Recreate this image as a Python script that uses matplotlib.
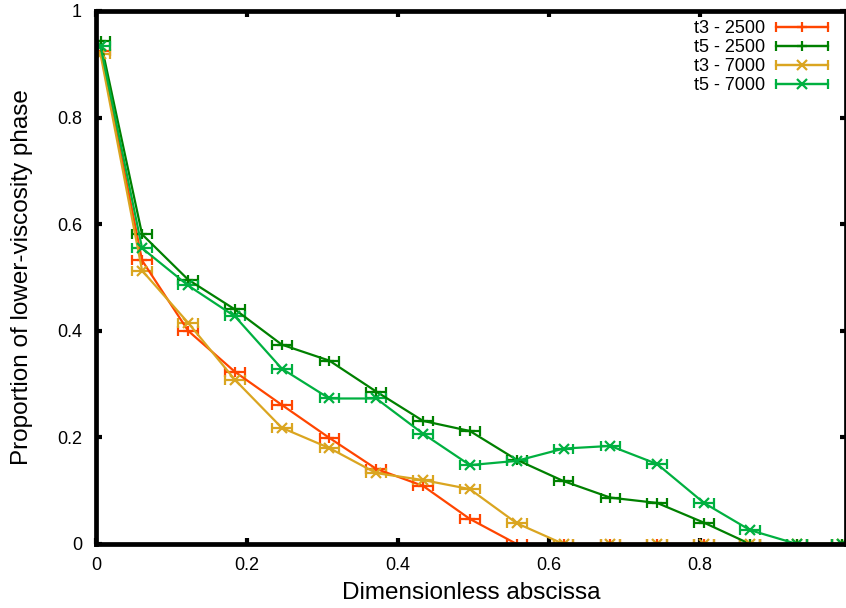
import matplotlib
matplotlib.use("Agg")
import matplotlib.pyplot as plt
import matplotlib.ticker as mticker
from matplotlib.container import ErrorbarContainer
from matplotlib.legend_handler import HandlerErrorbar

plt.rcParams["font.family"] = ["Liberation Sans", "DejaVu Sans"]

# ── data ────────────────────────────────────────────────────────────────────
x = [0.006, 0.061, 0.122, 0.184, 0.246, 0.309, 0.371, 0.433, 0.495,
     0.557, 0.619, 0.681, 0.743, 0.805, 0.866, 0.928, 0.988]
x_err = 0.013

t3_2500 = [0.925, 0.532, 0.400, 0.323, 0.261, 0.199, 0.141, 0.109, 0.047,
           0.0, 0.0, 0.0, 0.0, 0.0, 0.0, 0.0, 0.0]
t5_2500 = [0.944, 0.581, 0.496, 0.440, 0.374, 0.344, 0.286, 0.231, 0.212,
           0.158, 0.118, 0.087, 0.077, 0.040, 0.0, 0.0, 0.0]
t3_7000 = [0.919, 0.513, 0.415, 0.308, 0.218, 0.180, 0.133, 0.120, 0.103,
           0.039, 0.0, 0.0, 0.0, 0.0, 0.0, 0.0, 0.0]
t5_7000 = [0.934, 0.555, 0.485, 0.427, 0.329, 0.273, 0.273, 0.207, 0.148,
           0.156, 0.179, 0.184, 0.150, 0.077, 0.026, 0.0, 0.0]

series = [
    ("t3 - 2500", t3_2500, "#ff4500", "+"),
    ("t5 - 2500", t5_2500, "#008000", "+"),
    ("t3 - 7000", t3_7000, "#daa520", "x"),
    ("t5 - 7000", t5_7000, "#00b040", "x"),
]

fig = plt.figure(figsize=(8.46, 6.08), dpi=100)
ax = fig.add_axes([96 / 846, 64 / 608, 750 / 846, 533 / 608])

for label, y, color, marker in series:
    ax.errorbar(x, y, xerr=x_err, fmt="-", marker=marker, color=color,
                lw=1.6, elinewidth=1.6, capsize=3.5, capthick=1.6,
                markersize=7, markeredgewidth=1.6, label=label)

ax.set_xlim(0, 0.993)
ax.set_ylim(0, 1)
ax.xaxis.set_major_locator(mticker.MultipleLocator(0.2))
ax.yaxis.set_major_locator(mticker.MultipleLocator(0.2))
fmt = mticker.FuncFormatter(lambda v, p: f"{v:g}")
ax.xaxis.set_major_formatter(fmt)
ax.yaxis.set_major_formatter(fmt)

for s in ax.spines.values():
    s.set_linewidth(3.4)
ax.tick_params(direction="in", length=4, width=3, labelsize=13,
               top=True, right=True)
ax.tick_params(axis="x", pad=9)
ax.tick_params(axis="y", pad=10)

ax.set_xlabel("Dimensionless abscissa", fontsize=17.5, labelpad=6)
ax.set_ylabel("Proportion of lower-viscosity phase", fontsize=17.5, labelpad=17)

fig.legend(loc="upper right", bbox_to_anchor=(828 / 846, 1 - 20 / 608),
           frameon=False, markerfirst=False, fontsize=13,
           handlelength=2.9, handletextpad=0.6, labelspacing=0.12,
           borderpad=0, borderaxespad=0,
           handler_map={ErrorbarContainer: HandlerErrorbar(xerr_size=1.45)})

fig.savefig("out.png", dpi=100)
